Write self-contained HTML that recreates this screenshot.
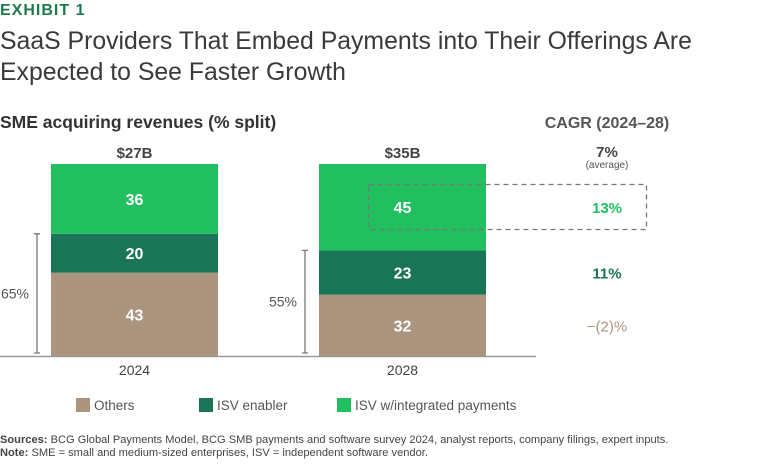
<!DOCTYPE html>
<html><head><meta charset="utf-8"><style>
body{margin:0;background:#fff;width:768px;height:461px;overflow:hidden;font-family:"Liberation Sans",sans-serif}
</style></head><body>
<svg id="c" width="768" height="461" xmlns="http://www.w3.org/2000/svg" font-family="Liberation Sans, sans-serif">
<text x="0" y="15" font-size="16" font-weight="bold" fill="#1e7a4f" letter-spacing="1">EXHIBIT 1</text>
<text x="0" y="49" font-size="24.8" fill="#3a3a3a">SaaS Providers That Embed Payments into Their Offerings Are</text>
<text x="0" y="80" font-size="24.8" fill="#3a3a3a">Expected to See Faster Growth</text>
<text x="0" y="128" font-size="17.5" font-weight="bold" fill="#333">SME acquiring revenues (% split)</text>
<text x="607" y="128" font-size="16" font-weight="bold" fill="#555" text-anchor="middle">CAGR (2024–28)</text>
<text x="607" y="157" font-size="15" font-weight="bold" fill="#444" text-anchor="middle">7%</text>
<text x="607" y="168" font-size="10" fill="#555" text-anchor="middle">(average)</text>
<g id="bars"></g>
<line x1="0" y1="356.5" x2="536" y2="356.5" stroke="#999" stroke-width="1.5"/>
<rect x="368.5" y="184.5" width="278" height="45" fill="none" stroke="#777" stroke-dasharray="5,4" stroke-width="1.3"/>
<g>
<rect x="76" y="398" width="14" height="14" fill="#ab957e"/>
<text x="94" y="410" font-size="13.5" fill="#555">Others</text>
<rect x="199" y="398" width="14" height="14" fill="#197556"/>
<text x="217" y="410" font-size="13.5" fill="#555">ISV enabler</text>
<rect x="337" y="398" width="14" height="14" fill="#21bf5f"/>
<text x="355" y="410" font-size="13.5" fill="#555">ISV w/integrated payments</text>
</g>
<text x="0" y="443" font-size="11.1" fill="#444"><tspan font-weight="bold">Sources:</tspan> BCG Global Payments Model, BCG SMB payments and software survey 2024, analyst reports, company filings, expert inputs.</text>
<text x="0" y="456" font-size="11.1" fill="#444"><tspan font-weight="bold">Note:</tspan> SME = small and medium-sized enterprises, ISV = independent software vendor.</text>
</svg>
<script>
const years=["2024","2028"];
const totals=["$27B","$35B"];
const others=[43,32];
const enabler=[20,23];
const integrated=[36,45];
const bracketLabels=["65%","55%"];
const cagrLabels=["−(2)%","11%","13%"];
const colors=["#ab957e","#197556","#21bf5f"];
const cagrColors=["#ab957e","#197556","#21bf5f"];
const NS="http://www.w3.org/2000/svg";
const g=document.getElementById('bars');
const base=356, H=192, barW=167, xs=[51,319];
function el(t,a){const e=document.createElementNS(NS,t);for(const k in a)e.setAttribute(k,a[k]);g.appendChild(e);return e;}
function txt(x,y,s,size,fill,w,anchor){const e=el('text',{x:x,y:y,'font-size':size,fill:fill,'font-weight':w,'text-anchor':anchor||'middle'});e.textContent=s;return e;}
const series=[others,enabler,integrated];
const names=["others","isv-enabler","isv-integrated"];
years.forEach((yr,i)=>{
  const sum=others[i]+enabler[i]+integrated[i];
  const sc=H/sum;
  let y=base;
  const cx=xs[i]+barW/2;
  const mids=[];
  series.forEach((s,j)=>{
    const h=s[i]*sc;
    const r=el('rect',{x:xs[i],y:y-h,width:barW,height:h,fill:colors[j]});
    
    
    const t=txt(cx,y-h/2+6,String(s[i]),16,'#fff','bold');
    
    
    mids.push(y-h/2);
    y-=h;
  });
  const tt=txt(cx,158,totals[i],15,'#444','bold');
  
  
  const yl=txt(cx,375,yr,14,'#444','normal');
  
  
  const top=base-(others[i]+enabler[i])*sc, bx=xs[i]-14, bot=base-3;
  const bk=el('path',{d:`M${bx-3} ${top}H${bx+3}M${bx} ${top}V${bot}M${bx-3} ${bot}H${bx+3}`,stroke:'#777','stroke-width':1.3,fill:'none'});
  
  
  const bl=txt(bx-8,(top+bot)/2+5,bracketLabels[i],14,'#555','normal','end');
  
  
  if(i===1){
    mids.forEach((m,j)=>{
      const c=txt(607,m+6,cagrLabels[j],15,cagrColors[j],j===0?'normal':'bold');
      
      
    });
  }
});
</script>
</body></html>
